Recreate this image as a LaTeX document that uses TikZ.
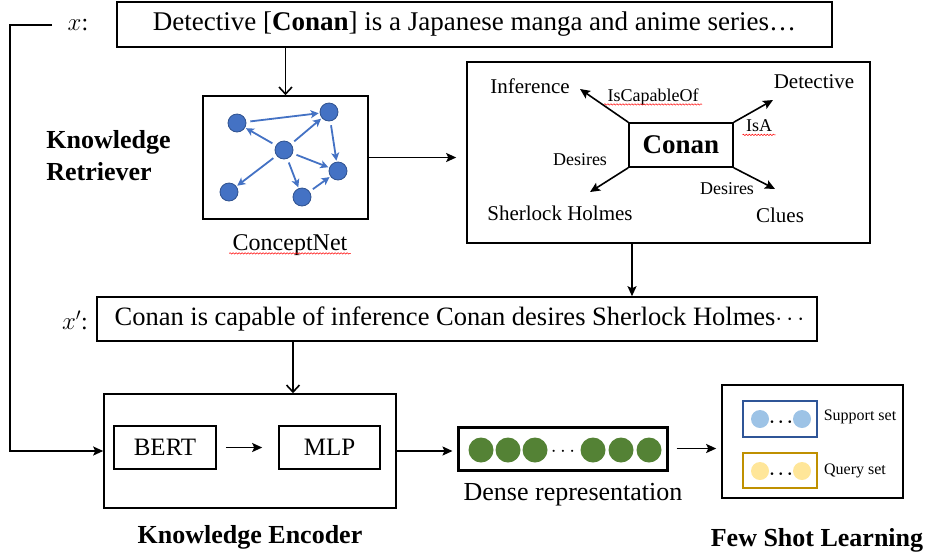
\documentclass[tikz,border=0pt]{standalone}
\usepackage{bm}
\usepackage{fontspec}
\setmainfont{Liberation Serif}
\usetikzlibrary{arrows.meta,calc,decorations.pathmorphing}

\definecolor{nodeblue}{HTML}{4472C4}
\definecolor{nodeedge}{HTML}{2F528F}
\definecolor{densegreen}{HTML}{548235}
\definecolor{supedge}{HTML}{2F5597}
\definecolor{supfill}{HTML}{9DC3E6}
\definecolor{qryedge}{HTML}{BF9000}
\definecolor{qryfill}{HTML}{FFE699}

\newcommand\fsz[1]{\fontsize{#1}{#1}\selectfont}

\tikzset{
  box/.style={draw, line width=1.6pt, inner sep=0pt},
  arr/.style={line width=1.6pt, -{Stealth[length=10pt,width=9pt,inset=2pt]}},
  openarr/.style={line width=1.6pt, -{Straight Barb[length=7pt,width=13pt]}},
  gnode/.style={circle, fill=nodeblue, draw=nodeedge, line width=0.8pt, minimum size=18pt, inner sep=0pt},
  garr/.style={nodeblue, line width=1.8pt, -{Stealth[length=8pt,width=8pt,inset=2pt]}, shorten <=4pt, shorten >=1pt},
  spell/.style={red, line width=0.5pt, decorate, decoration={snake, amplitude=0.7pt, segment length=3pt}},
}

\begin{document}
\begin{tikzpicture}[x=1pt,y=-1pt]
  \useasboundingbox (0,0) rectangle (932,558);

  % input sentence
  \node[box, minimum width=715pt, minimum height=45pt, font=\fsz{27}] (sent) at (474.5,24.5)
    {Detective [\textbf{Conan}] is a Japanese manga and anime series…};
  \node[font=\fsz{24}] (xl) at (78,25) {$x$:};

  % knowledge retriever
  \node[box, minimum width=165pt, minimum height=123pt] (cn) at (285.5,157.5) {};
  \node[font=\fsz{24}] (cnl) at (290,245) {ConceptNet};
  \draw[spell] ([yshift=-3pt]cnl.base west) -- ([yshift=-3pt]cnl.base east);
  \node[font=\bfseries\fontsize{26}{32}\selectfont, align=left] (kr) at (108.5,156) {Knowledge\\Retriever};

  \foreach \n/\x/\y in {1/237/123, 2/329/112, 3/284/150, 4/338/171, 5/229/192, 6/302/197}
    \node[gnode] (g\n) at (\x,\y) {};
  \foreach \a/\b in {1/2, 3/1, 3/2, 2/4, 3/4, 3/5, 3/6, 6/4}
    \draw[garr] (g\a) -- (g\b);

  % retrieved triples
  \node[box, minimum width=403pt, minimum height=181pt] (kg) at (668.5,152.5) {};
  \node[box, minimum width=104pt, minimum height=44pt, font=\bfseries\fsz{27}] (conan) at (681,145) {Conan};
  \node[font=\fsz{21}] (inf) at (530,86) {Inference};
  \node[font=\fsz{21}] (det) at (814,82) {Detective};
  \node[font=\fsz{21}] (sh) at (560,213) {Sherlock Holmes};
  \node[font=\fsz{21}] (clu) at (780,215) {Clues};
  \coordinate (infa) at (580,89);
  \coordinate (deta) at (773,100);
  \coordinate (sha) at (590,192);
  \coordinate (clua) at (775,189);
  \draw[arr] (conan.north west) -- (infa);
  \draw[arr] (conan.north east) -- (deta);
  \draw[arr] (conan.south west) -- (sha);
  \draw[arr] (conan.south east) -- (clua);
  \node[font=\fsz{18}] (r1) at (653,97) {IsCapableOf};
  \draw[spell] ([yshift=-3pt]r1.base west) -- ([yshift=-3pt]r1.base east);
  \node[font=\fsz{18}] (r2) at (759,126) {IsA};
  \draw[spell] ([yshift=-3pt]r2.base west) -- ([yshift=-3pt]r2.base east);
  \node[font=\fsz{18}] (r3) at (580,160) {Desires};
  \node[font=\fsz{18}] (r4) at (727,189) {Desires};

  % knowledge sentence
  \node[box, minimum width=720pt, minimum height=44pt, font=\fsz{26.5}] (xp) at (457,319)
    {\hspace{5pt}Conan is capable of inference Conan desires Sherlock Holmes$\cdots$};
  \node[font=\fsz{24}] (xpl) at (75,320) {$x'$:};

  % knowledge encoder
  \node[box, minimum width=292pt, minimum height=114pt] (enc) at (250,451) {};
  \node[box, minimum width=102pt, minimum height=43pt, font=\fsz{25}] (bert) at (165,447.5) {BERT};
  \node[box, minimum width=101pt, minimum height=43pt, font=\fsz{25}] (mlp) at (329.5,447.5) {MLP};
  \node[font=\bfseries\fsz{26}] (kel) at (250,537) {Knowledge Encoder};

  % dense representation
  \node[draw, line width=3pt, minimum width=209pt, minimum height=43pt] (dense) at (562.5,448.5) {};
  \foreach \x in {481,508,535,593,621,649}
    \fill[densegreen] (\x,450) circle (12.5);
  \node[font=\fsz{22}] (ddots) at (563,452) {$\cdots$};
  \node[font=\fsz{26}] (drl) at (573,495) {Dense representation};

  % few shot learning
  \node[box, minimum width=181pt, minimum height=113pt] (fsl) at (812.5,441.5) {};
  \node[draw=supedge, line width=1.6pt, minimum width=74pt, minimum height=36pt] (sup) at (780,419) {};
  \node[draw=qryedge, line width=1.6pt, minimum width=74pt, minimum height=35pt] (qry) at (780,470.5) {};
  \foreach \x in {760,802} {
    \fill[supfill] (\x,419) circle (9);
    \fill[qryfill] (\x,471) circle (9);
  }
  \node[font=\fsz{19}] (sdots) at (781,422) {$\bm{\cdots}$};
  \node[font=\fsz{19}] (qdots) at (781,474) {$\bm{\cdots}$};
  \node[font=\fsz{16}] (supl) at (860,417) {Support set};
  \node[font=\fsz{16}] (qryl) at (855,471) {Query set};
  \node[font=\bfseries\fsz{26}] (fsll) at (817,540) {Few Shot Learning};

  % connectors
  \coordinate (kgout) at ($(kg.south)+(-36.5,0)$);
  \coordinate (encin) at ($(enc.north)+(43,0)$);
  \coordinate (xs) at ($(xl.west)+(-12,0)$);
  \draw[openarr] (sent.south -| cn.north) -- (cn.north);
  \draw[arr, shorten >=10pt] (cn.east) -- (cn.east -| kg.west);
  \draw[arr] (kgout) -- (kgout |- xp.north);
  \draw[openarr] (xp.south -| encin) -- (encin);
  \draw[arr] (xs) -- ++(-42,0) |- (enc.west);
  \draw[arr, shorten <=9pt, shorten >=16pt] (bert) -- (mlp);
  \draw[arr, shorten >=4pt] (enc.east) -- (enc.east -| dense.west);
  \draw[arr, shorten <=8pt, shorten >=5pt] (dense.east) -- (dense.east -| fsl.west);
\end{tikzpicture}
\end{document}
